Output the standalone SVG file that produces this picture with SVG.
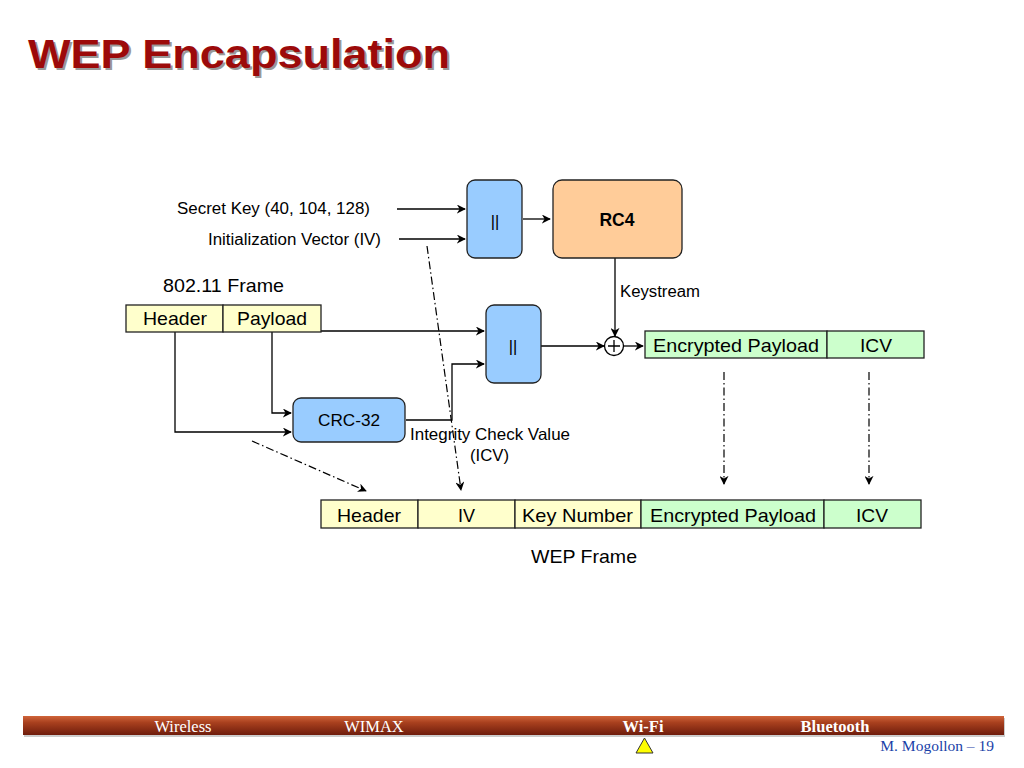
<svg xmlns="http://www.w3.org/2000/svg" width="1024" height="768" viewBox="0 0 1024 768">
<style>
text{font-family:"Liberation Sans",Arial,sans-serif;fill:#000}
.ln{fill:none;stroke:#000;stroke-width:1.3}
.dd{fill:none;stroke:#000;stroke-width:1.2;stroke-dasharray:8,3,1.5,3}
.blue{fill:#99ccff;stroke:#222;stroke-width:1.3}
.y{fill:#ffffcc;stroke:#222;stroke-width:1.3}
.g{fill:#ccffcc;stroke:#222;stroke-width:1.3}
.f17{font-size:19px}
.f15{font-size:16.5px}
.f14{font-size:16px}
.ft{font-family:"Liberation Serif","Times New Roman",serif;font-size:16.5px;fill:#fff}
</style>
<defs>
<marker id="ar" viewBox="0 0 10 10" refX="9" refY="5" markerWidth="9" markerHeight="9" markerUnits="userSpaceOnUse" orient="auto">
<path d="M0,0 L10,5 L0,10 L3,5 Z" fill="#000"/>
</marker>
<linearGradient id="bar" x1="0" y1="0" x2="0" y2="1">
<stop offset="0" stop-color="#d0643a"/>
<stop offset="0.35" stop-color="#a8401e"/>
<stop offset="1" stop-color="#6e1c0c"/>
</linearGradient>
</defs>
<rect width="1024" height="768" fill="#fff"/>
<g id="title">
<text x="30" y="70" font-size="40" font-weight="bold" textLength="422" lengthAdjust="spacingAndGlyphs" style="fill:#999">WEP Encapsulation</text>
<text x="28" y="68" font-size="40" font-weight="bold" textLength="422" lengthAdjust="spacingAndGlyphs" style="fill:#9c0a0a">WEP Encapsulation</text>
</g>
<g id="connectors">
<line class="ln" x1="397" y1="209" x2="465" y2="209" marker-end="url(#ar)"/>
<line class="ln" x1="399" y1="239" x2="465" y2="239" marker-end="url(#ar)"/>
<line class="ln" x1="523" y1="219" x2="550" y2="219" marker-end="url(#ar)"/>
<line class="ln" x1="615" y1="258" x2="615" y2="336" marker-end="url(#ar)"/>
<line class="ln" x1="321" y1="331" x2="484" y2="331" marker-end="url(#ar)"/>
<polyline class="ln" points="406,420 452,420 452,364 484,364" marker-end="url(#ar)"/>
<line class="ln" x1="541" y1="346" x2="604" y2="346" marker-end="url(#ar)"/>
<line class="ln" x1="624" y1="346" x2="643" y2="346" marker-end="url(#ar)"/>
<polyline class="ln" points="272,332 272,413 291,413" marker-end="url(#ar)"/>
<polyline class="ln" points="175,332 175,432 291,432" marker-end="url(#ar)"/>
<line class="dd" x1="427" y1="246" x2="461" y2="490" marker-end="url(#ar)"/>
<line class="dd" x1="252" y1="441" x2="366" y2="491" marker-end="url(#ar)"/>
<line class="dd" x1="724" y1="372" x2="724" y2="484" marker-end="url(#ar)"/>
<line class="dd" x1="869" y1="372" x2="869" y2="484" marker-end="url(#ar)"/>
</g>
<g id="labels">
<text x="370" y="214" class="f14" text-anchor="end" textLength="193" lengthAdjust="spacingAndGlyphs">Secret Key (40, 104, 128)</text>
<text x="381" y="245" class="f14" text-anchor="end" textLength="173" lengthAdjust="spacingAndGlyphs">Initialization Vector (IV)</text>
<text x="163" y="292" class="f17" textLength="121" lengthAdjust="spacingAndGlyphs">802.11 Frame</text>
<text x="620" y="297" class="f14" textLength="80" lengthAdjust="spacingAndGlyphs">Keystream</text>
<text x="410" y="440" class="f15" textLength="160" lengthAdjust="spacingAndGlyphs">Integrity Check Value</text>
<text x="470" y="461" class="f15" textLength="39" lengthAdjust="spacingAndGlyphs">(ICV)</text>
<text x="531" y="563" class="f17" textLength="106" lengthAdjust="spacingAndGlyphs">WEP Frame</text>
</g>
<g id="concat1">
<rect class="blue" x="467" y="180" width="55" height="78" rx="8"/>
<text x="495" y="227" class="f15" text-anchor="middle">||</text>
</g>
<g id="rc4">
<rect x="553" y="180" width="129" height="78" rx="9" fill="#ffcc99" stroke="#222" stroke-width="1.3"/>
<text x="617" y="226" font-size="17.5" font-weight="bold" text-anchor="middle">RC4</text>
</g>
<g id="frame80211">
<rect class="y" x="126" y="305" width="97" height="27"/>
<text x="143" y="325" class="f17" textLength="64" lengthAdjust="spacingAndGlyphs">Header</text>
<rect class="y" x="223" y="305" width="98" height="27"/>
<text x="237" y="325" class="f17" textLength="70" lengthAdjust="spacingAndGlyphs">Payload</text>
</g>
<g id="concat2">
<rect class="blue" x="486" y="305" width="55" height="78" rx="8"/>
<text x="513" y="352" class="f15" text-anchor="middle">||</text>
</g>
<g id="xor">
<circle cx="614" cy="346" r="9.5" fill="#fff" stroke="#000" stroke-width="1.3"/>
<path d="M608,346 H620 M614,340 V352" stroke="#000" stroke-width="1.3"/>
</g>
<g id="encrypted">
<rect class="g" x="645" y="331" width="182" height="27"/>
<text x="653" y="352" class="f17" textLength="166" lengthAdjust="spacingAndGlyphs">Encrypted Payload</text>
<rect class="g" x="827" y="331" width="97" height="27"/>
<text x="860" y="352" class="f17" textLength="32" lengthAdjust="spacingAndGlyphs">ICV</text>
</g>
<g id="crc32">
<rect class="blue" x="293" y="398" width="112" height="44" rx="8"/>
<text x="318" y="426" class="f15" textLength="62" lengthAdjust="spacingAndGlyphs">CRC-32</text>
</g>
<g id="wepframe">
<rect class="y" x="321" y="500" width="97" height="28"/>
<text x="337" y="522" class="f17" textLength="64" lengthAdjust="spacingAndGlyphs">Header</text>
<rect class="y" x="418" y="500" width="97" height="28"/>
<text x="458" y="522" class="f17" textLength="17" lengthAdjust="spacingAndGlyphs">IV</text>
<rect class="y" x="515" y="500" width="126" height="28"/>
<text x="522" y="522" class="f17" textLength="111" lengthAdjust="spacingAndGlyphs">Key Number</text>
<rect class="g" x="641" y="500" width="183" height="28"/>
<text x="650" y="522" class="f17" textLength="166" lengthAdjust="spacingAndGlyphs">Encrypted Payload</text>
<rect class="g" x="824" y="500" width="97" height="28"/>
<text x="856" y="522" class="f17" textLength="32" lengthAdjust="spacingAndGlyphs">ICV</text>
</g>
<g id="footer">
<rect x="24" y="718" width="981" height="19" fill="#999" opacity="0.5"/>
<rect x="23" y="716" width="981" height="19" fill="url(#bar)"/>
<text x="183" y="732" class="ft" text-anchor="middle">Wireless</text>
<text x="374" y="732" class="ft" text-anchor="middle">WIMAX</text>
<text x="643" y="732" class="ft" text-anchor="middle" font-weight="bold">Wi-Fi</text>
<text x="835" y="732" class="ft" text-anchor="middle" font-weight="bold">Bluetooth</text>
<polygon points="644.5,738 653,753 636,753" fill="#ffff00" stroke="#333" stroke-width="1"/>
<text x="994" y="751" text-anchor="end" style="font-family:'Liberation Serif','Times New Roman',serif;font-size:15.5px;fill:#1a3fa8">M. Mogollon – 19</text>
</g>
</svg>
